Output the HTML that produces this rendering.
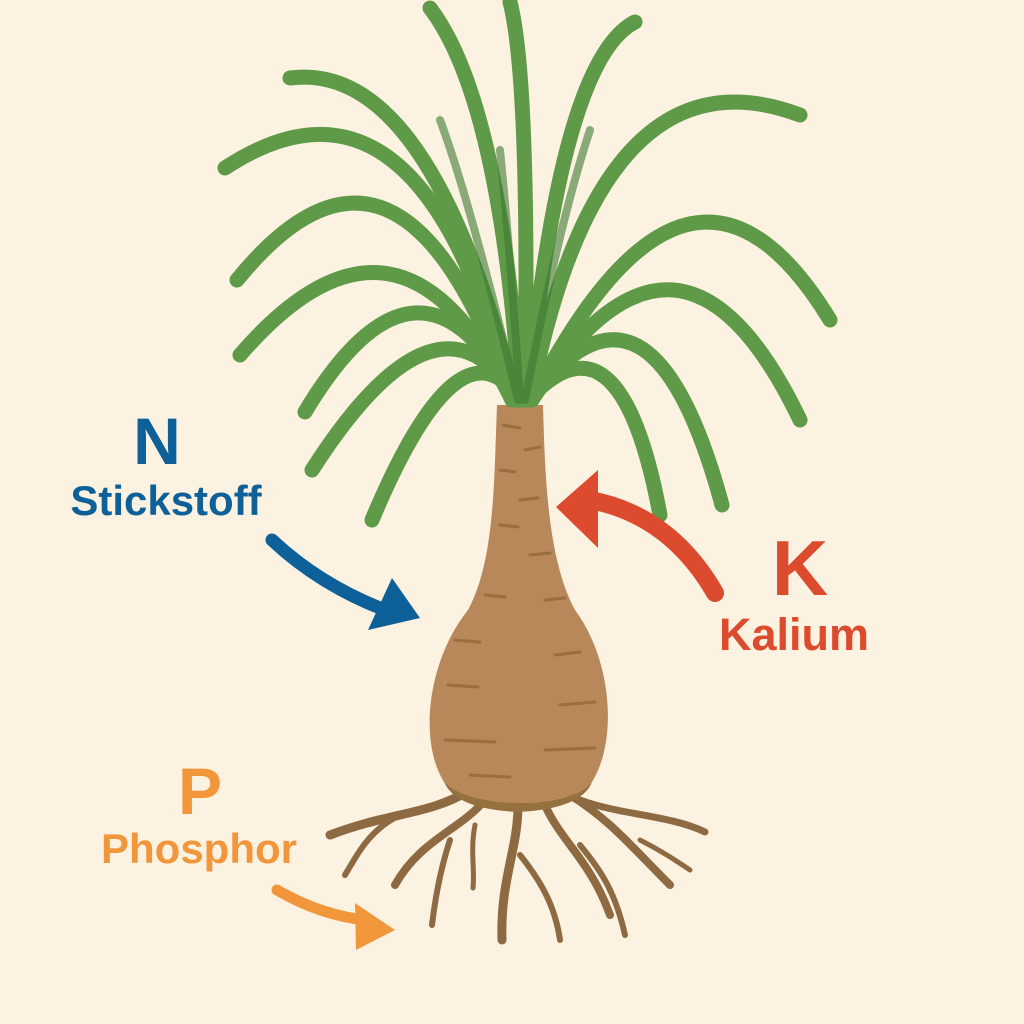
<!DOCTYPE html>
<html><head><style>
html,body{margin:0;padding:0;background:#FCF2E2;}
svg{display:block}
text{font-family:"Liberation Sans",sans-serif;font-weight:bold;}
</style></head><body>
<svg width="1024" height="1024" viewBox="0 0 1024 1024" xmlns="http://www.w3.org/2000/svg">
<rect width="1024" height="1024" fill="#FCF2E2"/>
<g fill="none" stroke="#8E6A42" stroke-linecap="round">
<path d="M470,790 C430,815 390,812 330,835" stroke-width="9"/>
<path d="M400,815 C370,830 360,850 345,875" stroke-width="6"/>
<path d="M485,800 C460,830 420,840 395,885" stroke-width="8"/>
<path d="M450,840 C440,870 435,900 432,925" stroke-width="6"/>
<path d="M475,825 C470,850 475,870 473,888" stroke-width="5"/>
<path d="M518,805 C518,850 500,880 502,940" stroke-width="9"/>
<path d="M520,855 C540,880 555,905 560,940" stroke-width="6"/>
<path d="M545,805 C560,840 590,860 610,915" stroke-width="8"/>
<path d="M580,845 C600,870 615,890 625,935" stroke-width="6"/>
<path d="M570,795 C610,820 630,845 670,885" stroke-width="8"/>
<path d="M580,800 C620,815 670,815 705,832" stroke-width="7"/>
<path d="M640,840 C660,850 675,860 690,870" stroke-width="5"/>
</g>
<path d="M497,405 L543,405 C545,480 548,560 575,610 C612,660 618,740 592,782 C570,810 468,810 444,782 C418,740 428,660 468,610 C495,560 494,480 497,405 Z" fill="#B8875A"/>
<path d="M444,782 C470,810 570,810 592,782 C585,800 560,810 518,812 C476,810 452,800 444,782 Z" fill="#96703F"/>
<g stroke="#93683C" stroke-width="3" stroke-linecap="round" fill="none" opacity="0.8">
<path d="M503,425 L520,428"/><path d="M525,450 L540,447"/><path d="M500,470 L515,472"/>
<path d="M520,500 L538,498"/><path d="M500,525 L518,527"/><path d="M530,555 L550,553"/>
<path d="M485,595 L505,597"/><path d="M545,600 L565,598"/><path d="M455,640 L480,642"/>
<path d="M555,655 L580,652"/><path d="M448,685 L478,687"/><path d="M560,705 L595,702"/>
<path d="M445,740 L495,742"/><path d="M545,750 L595,748"/><path d="M470,775 L510,777"/>
</g>
<g fill="none" stroke-linecap="round">
<g stroke="#5E9A48" stroke-width="15">
<path d="M515,400 Q430,60 290,78"/>
<path d="M512,400 Q420,40 225,168"/>
<path d="M512,400 Q400,80 237,280"/>
<path d="M512,400 Q400,170 240,355"/>
<path d="M515,400 Q420,220 305,412"/>
<path d="M517,400 Q440,270 312,470"/>
<path d="M520,400 Q460,310 372,520"/>
<path d="M520,400 Q500,100 430,8"/>
<path d="M525,400 Q530,80 510,2"/>
<path d="M528,400 Q560,60 635,22"/>
<path d="M530,400 Q600,40 800,115"/>
<path d="M532,400 Q690,90 830,320"/>
<path d="M532,400 Q680,170 800,420"/>
<path d="M530,400 Q650,240 722,505"/>
<path d="M528,400 Q620,300 660,515"/>
</g>
<g stroke="#3E7A32" stroke-width="8" opacity="0.6">
<path d="M518,400 Q470,200 440,120"/>
<path d="M525,400 Q560,220 590,130"/>
<path d="M520,400 Q510,250 500,150"/>
</g>
</g>
<path d="M272,540 Q320,585 385,610" fill="none" stroke="#0E6198" stroke-width="13" stroke-linecap="round"/>
<polygon points="368,630 392,578 420,618" fill="#0E6198"/>
<path d="M715,593 Q670,515 590,500" fill="none" stroke="#DC4B2E" stroke-width="18" stroke-linecap="round"/>
<polygon points="556,507 598,470 598,548" fill="#DC4B2E"/>
<path d="M277,890 Q320,915 365,920" fill="none" stroke="#F2963C" stroke-width="11" stroke-linecap="round"/>
<polygon points="355,903 395,930 356,950" fill="#F2963C"/>
<text x="157" y="464" font-size="66" fill="#0E6198" text-anchor="middle">N</text>
<text x="166" y="515" font-size="42" fill="#0E6198" text-anchor="middle">Stickstoff</text>
<text x="800" y="595" font-size="78" fill="#DC4B2E" text-anchor="middle">K</text>
<text x="794" y="650" font-size="45" fill="#DC4B2E" text-anchor="middle">Kalium</text>
<text x="200" y="814" font-size="66" fill="#F2963C" text-anchor="middle">P</text>
<text x="199" y="863" font-size="42" fill="#F2963C" text-anchor="middle">Phosphor</text>
</svg>
</body></html>
